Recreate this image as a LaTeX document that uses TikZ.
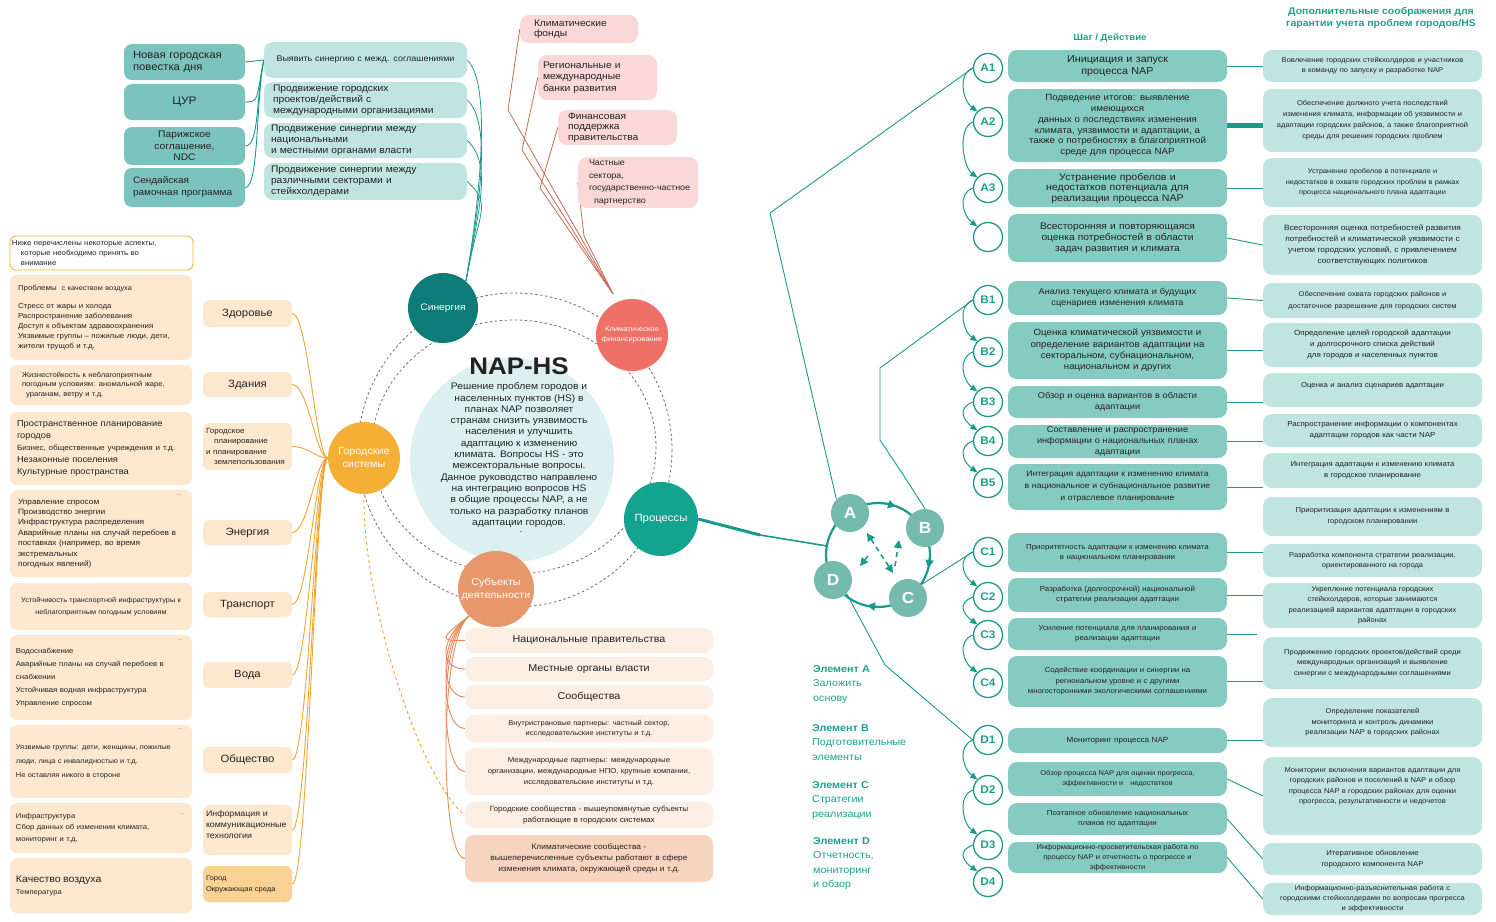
\documentclass[tikz,border=0pt]{standalone}
\usepackage{fontspec}
\setmainfont{Liberation Sans}[FakeStretch=1.08]
\usetikzlibrary{arrows.meta}
\definecolor{txt}{HTML}{222222}
\definecolor{tealbox}{HTML}{86CBC2}
\definecolor{tealdark}{HTML}{7DC3BD}
\definecolor{teallight}{HTML}{C0E4E0}
\definecolor{tealline}{HTML}{1A9A8A}
\definecolor{tealtxt}{HTML}{1FA08E}
\definecolor{pinkbox}{HTML}{FBD8D8}
\definecolor{pinkline}{HTML}{C46A55}
\definecolor{peach}{HTML}{FDE8CF}
\definecolor{peach2}{HTML}{FDEEE4}
\definecolor{peach3}{HTML}{F7D4C0}
\definecolor{cityor}{HTML}{FAD394}
\definecolor{orline}{HTML}{F2A52C}
\definecolor{subjline}{HTML}{E48A5C}
\definecolor{cSyn}{HTML}{0D7B78}
\definecolor{cKlim}{HTML}{EE7066}
\definecolor{cGor}{HTML}{F5AF35}
\definecolor{cProc}{HTML}{13A48F}
\definecolor{cSubj}{HTML}{E8966B}
\definecolor{cCenter}{HTML}{DDF0F0}
\definecolor{cABCD}{HTML}{74BBAE}
\definecolor{ringgray}{HTML}{707070}
\pgfdeclarelayer{bg}
\pgfsetlayers{bg,main}
\newcommand\bxmar{4}
\newcommand\bx[7]{%
  \pgfmathsetmacro\bxw{#4-#2}%
  \pgfmathsetmacro\bxh{#5-#3}%
  \pgfmathsetmacro\bxt{#4-#2-2*\bxmar}%
  \node[inner xsep=\bxmar pt,inner ysep=0pt,minimum width=\bxw pt,minimum height=\bxh pt,text width=\bxt pt,align=center,#6] (#1) at ({(#2+#4)/2},{(#3+#5)/2}) {#7};}
\begin{document}
\begin{tikzpicture}[x=1pt,y=-1pt,
  every node/.style={text=txt},
  fs/.style 2 args={font=\fontsize{#1}{#2}\selectfont},
  tlbox/.style={fill=tealdark,rounded corners=8pt},
  lbox/.style={fill=teallight,rounded corners=9pt},
  pbox/.style={fill=pinkbox,rounded corners=9pt},
  peachbox/.style={fill=peach,rounded corners=7pt},
  catbox/.style={fill=peach,rounded corners=6pt},
  citybox/.style={fill=cityor,rounded corners=6pt},
  bcbox/.style={fill=peach2,rounded corners=9pt},
  bcbox2/.style={fill=peach3,rounded corners=9pt},
  stepbox/.style={fill=tealbox,rounded corners=9pt},
  notebox/.style={fill=teallight,rounded corners=9pt},
  hbox/.style={draw=cGor,line width=0.8pt,fill=white,rounded corners=6pt},
  sat/.style={circle,inner sep=0pt,text=white,align=center},
  stepc/.style={circle,draw=tealline,line width=1.3pt,fill=white,minimum size=29pt,inner sep=0pt,text=tealtxt,font=\bfseries\fontsize{11}{11}\selectfont},
  abcd/.style={circle,fill=cABCD,minimum size=38pt,inner sep=0pt,text=white,font=\bfseries\fontsize{16}{16}\selectfont},
  conn/.style={draw=tealline,line width=0.9pt},
  chainar/.style={draw=tealline,line width=1pt,-{Triangle[length=7pt,width=6pt]}},
  orl/.style={draw=orline,line width=0.9pt},
  subl/.style={draw=subjline,line width=0.9pt},
  pinkl/.style={draw=pinkline,line width=0.8pt},
  ringd/.style={draw=ringgray,line width=0.8pt,dash pattern=on 2.5pt off 2.5pt},
  elem/.style={text=tealtxt,align=left,anchor=north west,inner sep=0pt,fs={10}{14.5}},
  dotsn/.style={text=gray,fs={6}{6}}
]
\useasboundingbox (0,0) rectangle (1496,921);

% ---------- top-left teal boxes ----------
\renewcommand\bxmar{9}
\bx{ngp}{124}{44}{245}{80}{tlbox,align=left,fs={10.5}{11.5}}{Новая городская\\повестка дня}
\bx{cur}{124}{84}{245}{120}{tlbox,fs={11}{12}}{ЦУР}
\bx{par}{124}{127}{245}{165}{tlbox,fs={9.5}{11.5}}{Парижское\\соглашение,\\NDC}
\bx{sen}{124}{168}{245}{207}{tlbox,align=left,fs={9.3}{12}}{Сендайская\\рамочная программа}

\bx{s1}{264}{42}{467}{78}{lbox,fs={8.3}{10}}{Выявить синергию с межд. соглашениями}
\bx{s2}{264}{82}{467}{118}{lbox,align=left,fs={9.5}{11}}{Продвижение городских\\проектов/действий с\\международными организациями}
\renewcommand\bxmar{7}
\bx{s3}{264}{123}{467}{158}{lbox,align=left,fs={9.5}{11}}{Продвижение синергии между\\национальными\\и местными органами власти}
\bx{s4}{264}{163}{467}{200}{lbox,align=left,fs={9.5}{11}}{Продвижение синергии между\\различными секторами и\\стейкхолдерами}

% ---------- pink finance boxes ----------
\renewcommand\bxmar{14}
\bx{kf}{520}{15}{638}{43}{pbox,align=left,fs={9.5}{10.5}}{Климатические\\фонды}
\renewcommand\bxmar{5}
\bx{rb}{538}{55}{657}{100}{pbox,align=left,fs={9.5}{11.5}}{Региональные и\\международные\\банки развития}
\renewcommand\bxmar{10}
\bx{fp}{558}{110}{677}{145}{pbox,align=left,fs={9.5}{10.5}}{Финансовая\\поддержка\\правительства}
\renewcommand\bxmar{11}
\bx{ps}{578}{157}{698}{208}{pbox,align=left,fs={8.3}{12.5}}{Частные\\сектора,\\\mbox{государственно-частное}\\\hspace*{5pt}партнерство}

% ---------- left column ----------
\renewcommand\bxmar{2}
\bx{hdr}{10}{236}{193}{270}{hbox,align=left,fs={7.2}{9.8}}{Ниже перечислены некоторые аспекты,\\\hspace*{9pt}которые необходимо принять во\\\hspace*{9pt}внимание}
\renewcommand\bxmar{8}
\bx{l1}{10}{275}{192}{360}{peachbox,align=left,fs={7.3}{10}}{Проблемы\ \ {\fontsize{6.8}{10}\selectfont с качеством воздуха}\\[8pt]Стресс от жары и холода\\Распространение заболевания\\Доступ к объектам здравоохранения\\Уязвимые группы -- пожилые люди, дети,\\жители трущоб и т.д.}
\bx{l2}{10}{365}{192}{405}{peachbox,align=left,fs={7.1}{9.8}}{\hspace*{4pt}Жизнестойкость к неблагоприятным\\\hspace*{4pt}погодным условиям: аномальной жаре,\\\hspace*{8pt}ураганам, ветру и т.д.}
\renewcommand\bxmar{7}
\bx{l3}{10}{412}{192}{485}{peachbox,align=left,fs={8.6}{11.8}}{Пространственное планирование\\городов\\{\fontsize{7.5}{11.8}\selectfont Бизнес, общественные учреждения и т.д.}\\Незаконные поселения\\Культурные пространства}
\renewcommand\bxmar{8}
\bx{l4}{10}{490}{192}{577}{peachbox,align=left,fs={7.7}{10.4}}{Управление спросом\\Производство энергии\\Инфраструктура распределения\\Аварийные планы на случай перебоев в\\поставках (например, во время\\экстремальных\\погодных явлений)}
\renewcommand\bxmar{4}
\bx{l5}{10}{583}{192}{630}{peachbox,fs={6.8}{12}}{Устойчивость транспортной инфраструктуры к\\неблагоприятным погодным условиям}
\renewcommand\bxmar{6}
\bx{l6}{10}{635}{192}{720}{peachbox,align=left,fs={7.2}{13}}{Водоснабжение\\Аварийные планы на случай перебоев в\\снабжении\\Устойчивая водная инфраструктура\\Управление спросом}
\bx{l7}{10}{725}{192}{798}{peachbox,align=left,fs={6.9}{14}}{Уязвимые группы: дети, женщины, пожилые\\люди, лица с инвалидностью и т.д.\\Не оставляя никого в стороне}
\bx{l8}{10}{803}{192}{853}{peachbox,align=left,fs={7.1}{11.5}}{Инфраструктура\\Сбор данных об изменении климата,\\мониторинг и т.д.}
\bx{l9}{10}{858}{192}{913}{peachbox,align=left,fs={7}{12}}{{\fontsize{9.8}{12}\selectfont Качество воздуха}\\Температура}
\node[dotsn] (dt1) at (179,495) {...};
\node[dotsn] (dt2) at (180,640) {...};
\node[dotsn] (dt3) at (180,729) {...};
\node[dotsn] (dt4) at (182,814) {...};

% ---------- categories ----------
\renewcommand\bxmar{3}
\bx{zd}{203}{300}{292}{327}{catbox,fs={10.5}{12}}{Здоровье}
\bx{zn}{203}{372}{292}{397}{catbox,fs={10.5}{12}}{Здания}
\bx{gp}{203}{423}{292}{470}{catbox,align=left,fs={7.5}{10.5}}{Городское\\\hspace*{8pt}планирование\\и планирование\\\hspace*{8pt}землепользования}
\bx{en}{203}{520}{292}{545}{catbox,fs={10.5}{12}}{Энергия}
\bx{tr}{203}{592}{292}{617}{catbox,fs={10.5}{12}}{Транспорт}
\bx{vo}{203}{662}{292}{688}{catbox,fs={10.5}{12}}{Вода}
\bx{ob}{203}{747}{292}{773}{catbox,fs={10.5}{12}}{Общество}
\bx{ikt}{203}{805}{292}{855}{catbox,align=left,fs={8.2}{11}}{Информация и\\коммуникационные\\технологии\\~}
\bx{gor}{203}{866}{292}{902}{citybox,align=left,fs={7}{11}}{Город\\Окружающая среда}

% ---------- center ----------
\node[circle,fill=cCenter,minimum size=204pt,inner sep=0pt] (ctr) at (512,460) {};
\node[font=\bfseries\fontsize{24}{24}\selectfont] (title) at (519,366) {NAP-HS};
\node[align=center,fs={9.5}{11.3},inner sep=0pt] (ctxt) at (519,455) {Решение проблем городов и\\населенных пунктов (HS) в\\планах NAP позволяет\\странам снизить уязвимость\\населения и улучшить\\адаптацию к изменению\\климата. Вопросы HS - это\\межсекторальные вопросы.\\Данное руководство направлено\\на интеграцию вопросов HS\\в общие процессы NAP, а не\\только на разработку планов\\адаптации городов.};
\node[fs={9}{9},inner sep=0pt] (cdot) at (521,532) {.};

\node[sat,fill=cSyn,minimum size=70pt,fs={9.5}{11}] (syn) at (443,308) {Синергия};
\node[sat,fill=cKlim,minimum size=72pt,fs={7}{9.5}] (klim) at (632,335) {Климатическое\\финансирование};
\node[sat,fill=cGor,minimum size=72pt,fs={10}{13}] (gs) at (364,458) {Городские\\системы};
\node[sat,fill=cProc,minimum size=74pt,fs={10.5}{12}] (proc) at (661,519) {Процессы};
\node[sat,fill=cSubj,minimum size=76pt,fs={10}{13}] (subj) at (496,589) {Субъекты\\деятельности};

% ---------- bottom center ----------
\renewcommand\bxmar{4}
\bx{b1}{465}{628}{713}{653}{bcbox,fs={10}{12}}{Национальные правительства}
\bx{b2}{465}{657}{713}{681}{bcbox,fs={10}{12}}{Местные органы власти}
\bx{b3}{465}{685}{713}{709}{bcbox,fs={10}{12}}{Сообщества}
\bx{b4}{465}{715}{713}{742}{bcbox,fs={7}{10.5}}{Внутристрановые партнеры: частный сектор,\\исследовательские институты и т.д.}
\bx{b5}{465}{748}{713}{795}{bcbox,fs={7.2}{11}}{Международные партнеры: международные\\организации, международные НПО, крупные компании,\\исследовательские институты и т.д.}
\bx{b6}{465}{802}{713}{828}{bcbox,fs={7.5}{10.5}}{Городские сообщества - вышеупомянутые субъекты\\работающие в городских системах}
\bx{b7}{465}{835}{713}{882}{bcbox2,fs={7.8}{11}}{Климатические сообщества -\\вышеперечисленные субъекты работают в сфере\\изменения климата, окружающей среды и т.д.}

% ---------- right: titles ----------
\node[text=tealtxt,font=\bfseries\fontsize{9}{11}\selectfont] (t1) at (1110,38) {Шаг / Действие};
\node[text=tealtxt,align=center,font=\bfseries\fontsize{9.7}{12}\selectfont] (t2) at (1381,18) {Дополнительные соображения для\\гарантии учета проблем городов/HS};

% ---------- steps ----------
\renewcommand\bxmar{3}
\bx{a1b}{1008}{50}{1227}{82}{stepbox,fs={10}{12}}{Инициация и запуск\\процесса NAP}
\bx{a2b}{1008}{89}{1227}{162}{stepbox,fs={9}{10.8}}{Подведение итогов: выявление\\имеющихся\\данных о последствиях изменения\\климата, уязвимости и адаптации, а\\также о потребностях в благоприятной\\среде для процесса NAP}
\bx{a3b}{1008}{169}{1227}{207}{stepbox,fs={9.8}{10.5}}{Устранение пробелов и\\недостатков потенциала для\\реализации процесса NAP}
\bx{a4b}{1008}{214}{1227}{262}{stepbox,fs={9.5}{11}}{Всесторонняя и повторяющаяся\\оценка потребностей в области\\задач развития и климата}
\bx{b1b}{1008}{281}{1227}{315}{stepbox,fs={8.5}{11}}{Анализ текущего климата и будущих\\сценариев изменения климата}
\bx{b2b}{1008}{322}{1227}{379}{stepbox,fs={9}{11.3}}{Оценка климатической уязвимости и\\определение вариантов адаптации на\\секторальном, субнациональном,\\национальном и других}
\bx{b3b}{1008}{386}{1227}{418}{stepbox,fs={8.5}{11}}{Обзор и оценка вариантов в области\\адаптации}
\bx{b4b}{1008}{425}{1227}{458}{stepbox,fs={8.5}{11}}{Составление и распространение\\информации о национальных планах\\адаптации}
\bx{b5b}{1008}{464}{1227}{510}{stepbox,fs={8}{12}}{Интеграция адаптации к изменению климата\\в национальное и субнациональное развитие\\и отраслевое планирование}
\bx{c1b}{1008}{533}{1227}{572}{stepbox,fs={7.3}{10}}{Приоритетность адаптации к изменению климата\\в национальном планировании}
\bx{c2b}{1008}{578}{1227}{612}{stepbox,fs={7.3}{10}}{Разработка (долгосрочной) национальной\\стратегии реализации адаптации}
\bx{c3b}{1008}{618}{1227}{650}{stepbox,fs={7.3}{10}}{Усиление потенциала для планирования и\\реализации адаптации}
\bx{c4b}{1008}{656}{1227}{707}{stepbox,fs={7.2}{10.5}}{Содействие координации и синергии на\\региональном уровне и с другими\\многосторонними экологическими соглашениями}
\bx{d1b}{1008}{728}{1227}{753}{stepbox,fs={7.5}{10}}{Мониторинг процесса NAP}
\bx{d2b}{1008}{762}{1227}{796}{stepbox,fs={6.9}{10}}{Обзор процесса NAP для оценки прогресса,\\эффективности и\ \ \ недостатков}
\bx{d3b}{1008}{803}{1227}{835}{stepbox,fs={7.3}{10}}{Поэтапное обновление национальных\\планов по адаптации}
\bx{d4b}{1008}{842}{1227}{873}{stepbox,fs={7}{10}}{Информационно-просветительская работа по\\процессу NAP и отчетность о прогрессе и\\эффективности}

% ---------- notes ----------
\renewcommand\bxmar{2}
\bx{na1}{1263}{50}{1482}{82}{notebox,fs={7}{10}}{Вовлечение городских стейкхолдеров и участников\\в команду по запуску и разработке NAP}
\bx{na2}{1263}{89}{1482}{152}{notebox,fs={7}{11}}{Обеспечение должного учета последствий\\изменения климата, информации об уязвимости и\\адаптации городских районов, а также благоприятной\\среды для решения городских проблем}
\bx{na3}{1263}{158}{1482}{207}{notebox,fs={6.8}{10.5}}{Устранение пробелов в потенциале и\\недостатков в охвате городских проблем в рамках\\процесса национального плана адаптации}
\bx{na4}{1263}{215}{1482}{275}{notebox,fs={7.7}{11}}{Всесторонняя оценка потребностей развития\\потребностей и климатической уязвимости с\\учетом городских условий, с привлечением\\соответствующих политиков}
\bx{nb1}{1263}{283}{1482}{318}{notebox,fs={7}{11.5}}{Обеспечение охвата городских районов и\\достаточное разрешение для городских систем}
\bx{nb2}{1263}{323}{1482}{367}{notebox,fs={7.4}{11}}{Определение целей городской адаптации\\и долгосрочного списка действий\\для городов и населенных пунктов}
\bx{nb3}{1263}{373}{1482}{407}{notebox,fs={7.2}{11}}{Оценка и анализ сценариев адаптации\\~}
\bx{nb4}{1263}{414}{1482}{447}{notebox,fs={7.3}{11}}{Распространение информации о компонентах\\адаптации городов как части NAP}
\bx{nb5}{1263}{453}{1482}{488}{notebox,fs={7.2}{11}}{Интеграция адаптации к изменению климата\\в городское планирование}
\bx{nb6}{1263}{497}{1482}{536}{notebox,fs={7.1}{11}}{Приоритизация адаптации к изменениям в\\городском планировании}
\bx{nc1}{1263}{544}{1482}{577}{notebox,fs={7}{10.5}}{Разработка компонента стратегии реализации,\\ориентированного на города}
\bx{nc2}{1263}{583}{1482}{628}{notebox,fs={7}{10.5}}{Укрепление потенциала городских\\стейкхолдеров, которые занимаются\\реализацией вариантов адаптации в городских\\районах}
\bx{nc3}{1263}{637}{1482}{689}{notebox,fs={7}{10.5}}{Продвижение городских проектов/действий среди\\международных организаций и выявление\\синергии с международными соглашениями}
\bx{nd1}{1263}{698}{1482}{747}{notebox,fs={7}{10.5}}{Определение показателей\\мониторинга и контроль динамики\\реализации NAP в городских районах}
\bx{nd2}{1263}{757}{1482}{835}{notebox,fs={7}{10.5}}{Мониторинг включения вариантов адаптации для\\городских районов и поселений в NAP и обзор\\процесса NAP в городских районах для оценки\\прогресса, результативности и недочетов\\~\\~}
\bx{nd3}{1263}{843}{1482}{875}{notebox,fs={7.2}{10.5}}{Итеративное обновление\\городского компонента NAP}
\bx{nd4}{1263}{883}{1482}{915}{notebox,fs={7}{10}}{Информационно-разъяснительная работа с\\городскими стейкхолдерами по вопросам прогресса\\и эффективности}

% ---------- step circles ----------
\node[stepc] (a1c) at (988,68) {A1};
\node[stepc] (a2c) at (988,122) {A2};
\node[stepc] (a3c) at (988,188) {A3};
\node[stepc] (a4c) at (988,237) {};
\node[stepc] (b1c) at (988,300) {B1};
\node[stepc] (b2c) at (988,352) {B2};
\node[stepc] (b3c) at (988,402) {B3};
\node[stepc] (b4c) at (988,441) {B4};
\node[stepc] (b5c) at (988,483) {B5};
\node[stepc] (c1c) at (988,552) {C1};
\node[stepc] (c2c) at (988,597) {C2};
\node[stepc] (c3c) at (988,635) {C3};
\node[stepc] (c4c) at (988,683) {C4};
\node[stepc] (d1c) at (988,740) {D1};
\node[stepc] (d2c) at (988,790) {D2};
\node[stepc] (d3c) at (988,845) {D3};
\node[stepc] (d4c) at (988,882) {D4};

% ---------- ABCD cycle ----------
\node[abcd] (A) at (850,513) {A};
\node[abcd] (B) at (925,528) {B};
\node[abcd] (C) at (908,598) {C};
\node[abcd] (D) at (833,580) {D};

\node[elem] (elA) at (813,665) {\textbf{Элемент A}\\Заложить\\основу};
\node[elem] (elB) at (812,724) {\textbf{Элемент B}\\Подготовительные\\элементы};
\node[elem] (elC) at (812,781) {\textbf{Элемент C}\\Стратегии\\реализации};
\node[elem] (elD) at (813,837) {\textbf{Элемент D}\\Отчетность,\\мониторинг\\и обзор};

\coordinate (ajoint) at (770,213);
\coordinate (bj1) at (904,476);
\coordinate (bj2) at (880,440);
\coordinate (bj3) at (880,368);
\coordinate (dj1) at (885,665);
\coordinate (pj) at (760,535);
\coordinate (ringw) at (827,546);
\coordinate (c3end) at (1257,634);
\coordinate (synin) at (466,281);
\coordinate (klimin) at (613,294);

\begin{pgfonlayer}{bg}
\fill[white] (0,0) rectangle (1496,921);
% dashed rings
\draw[ringd] (515,450) circle (157);
\draw[ringd] (514,447) ellipse [x radius=142, y radius=127];
% cycle ring
\draw[tealline,line width=2.2pt] (878,555) circle (52);
\draw[tealline,line width=2.2pt,-{Triangle[length=8pt,width=8pt]}] (886,503.5) -- (896,506.5);
\draw[tealline,line width=2.2pt,-{Triangle[length=8pt,width=8pt]}] (930,557) -- (928.5,568);
\draw[tealline,line width=2.2pt,-{Triangle[length=8pt,width=8pt]}] (878,607) -- (867,605.5);
\draw[tealline,line width=1.6pt,dash pattern=on 5pt off 4pt,{Triangle[length=8pt,width=8pt]}-{Triangle[length=8pt,width=8pt]}] (867,533) -- (893,573);
\draw[tealline,line width=1.6pt,dash pattern=on 5pt off 4pt,-{Triangle[length=8pt,width=8pt]}] (895,566) -- (899,540);
\draw[tealline,line width=1.6pt,-{Triangle[length=8pt,width=8pt]}] (868,556) -- (860,566);
% processes -> cycle
\draw[tealline,line width=3pt] (proc.east) -- (pj);
\draw[tealline,line width=1.6pt] (pj) -- (ringw);
% feeders
\draw[conn] (A.north west) -- (ajoint) -- (a1c.west);
\draw[conn] (B.north) -- (bj1) -- (bj2) -- (bj3) -- (b1c.west);
\draw[conn] (C.north east) -- (c1c.west);
\draw[conn] (D.south east) -- (dj1) -- (d1c.west);
% chain arrows
\foreach \p/\q in {a1c/a2c,a2c/a3c,a3c/a4c,b1c/b2c,b2c/b3c,b3c/b4c,b4c/b5c,c1c/c2c,c2c/c3c,c3c/c4c,d1c/d2c,d2c/d3c,d3c/d4c}
  \draw[chainar] (\p.west) .. controls +(-16,6) and +(-14,-10) .. (\q.north west);
% step -> note connectors
\draw[conn] (a1b.east) -- (na1.west);
\draw[tealline,line width=5pt] (a2b.east) -- (a2b.east -| na2.west);
\draw[conn] (a3b.east) -- (a3b.east -| na3.west);
\draw[conn] (a4b.east) -- (na4.west);
\draw[conn] (b1b.east) -- (nb1.west);
\draw[conn] (b2b.east) -- (b2b.east -| nb2.west);
\draw[conn] (b3b.east) -- (b3b.east -| nb3.west);
\draw[conn] (b4b.east) -- (b4b.east -| nb4.west);
\draw[conn] (b5b.east) -- (b5b.east -| nb5.west);
\draw[conn] (c1b.east) -- (c1b.east -| nc1.west);
\draw[conn] (c2b.east) -- (c2b.east -| nc2.west);
\draw[conn] (c3b.east) -- (c3end);
\draw[conn] (c4b.east) -- (c4b.east -| nc3.west);
\draw[conn] (d1b.east) -- (d1b.east -| nd1.west);
\draw[conn] (d2b.east) -- (nd2.west);
\draw[conn] (d3b.east) -- (nd3.west);
\draw[conn] (d4b.east) -- (nd4.west);
% top-left bracket
\draw[conn] (ngp.east) -- (s1.west);
\foreach \n in {cur,par,sen}
  \draw[conn] (\n.east) .. controls +(14,0) and +(-8,40) .. (s1.west);
% synergy lines
\foreach \n in {s1,s2,s3,s4}
  \draw[conn,line width=0.8pt] (\n.east) .. controls +(26,24) and +(12,-70) .. (synin);
% finance lines
\draw[pinkl] (kf.west) -- (508,110) -- (klimin);
\draw[pinkl] (rb.west) -- (522,150) -- (klimin);
\draw[pinkl] (fp.west) -- (540,188) -- (klimin);
\draw[pinkl] (ps.west) -- (584,236) -- (klimin);
% categories -> urban systems
\foreach \n in {zd,zn,gp,en,tr,vo,ob,ikt,gor}
  \draw[orl] (\n.east) .. controls +(16,0) and +(-12,0) .. (gs.west);
\draw[orl,dashed] (gs.south) .. controls (362,600) and (420,780) .. (b6.west);
% actors -> boxes
\foreach \n in {b1,b2,b3,b4,b5,b7}
  \draw[subl] (subj.south west) .. controls (438,640) and (440,0 |- \n.west) .. (\n.west);
\end{pgfonlayer}
\end{tikzpicture}
\end{document}
